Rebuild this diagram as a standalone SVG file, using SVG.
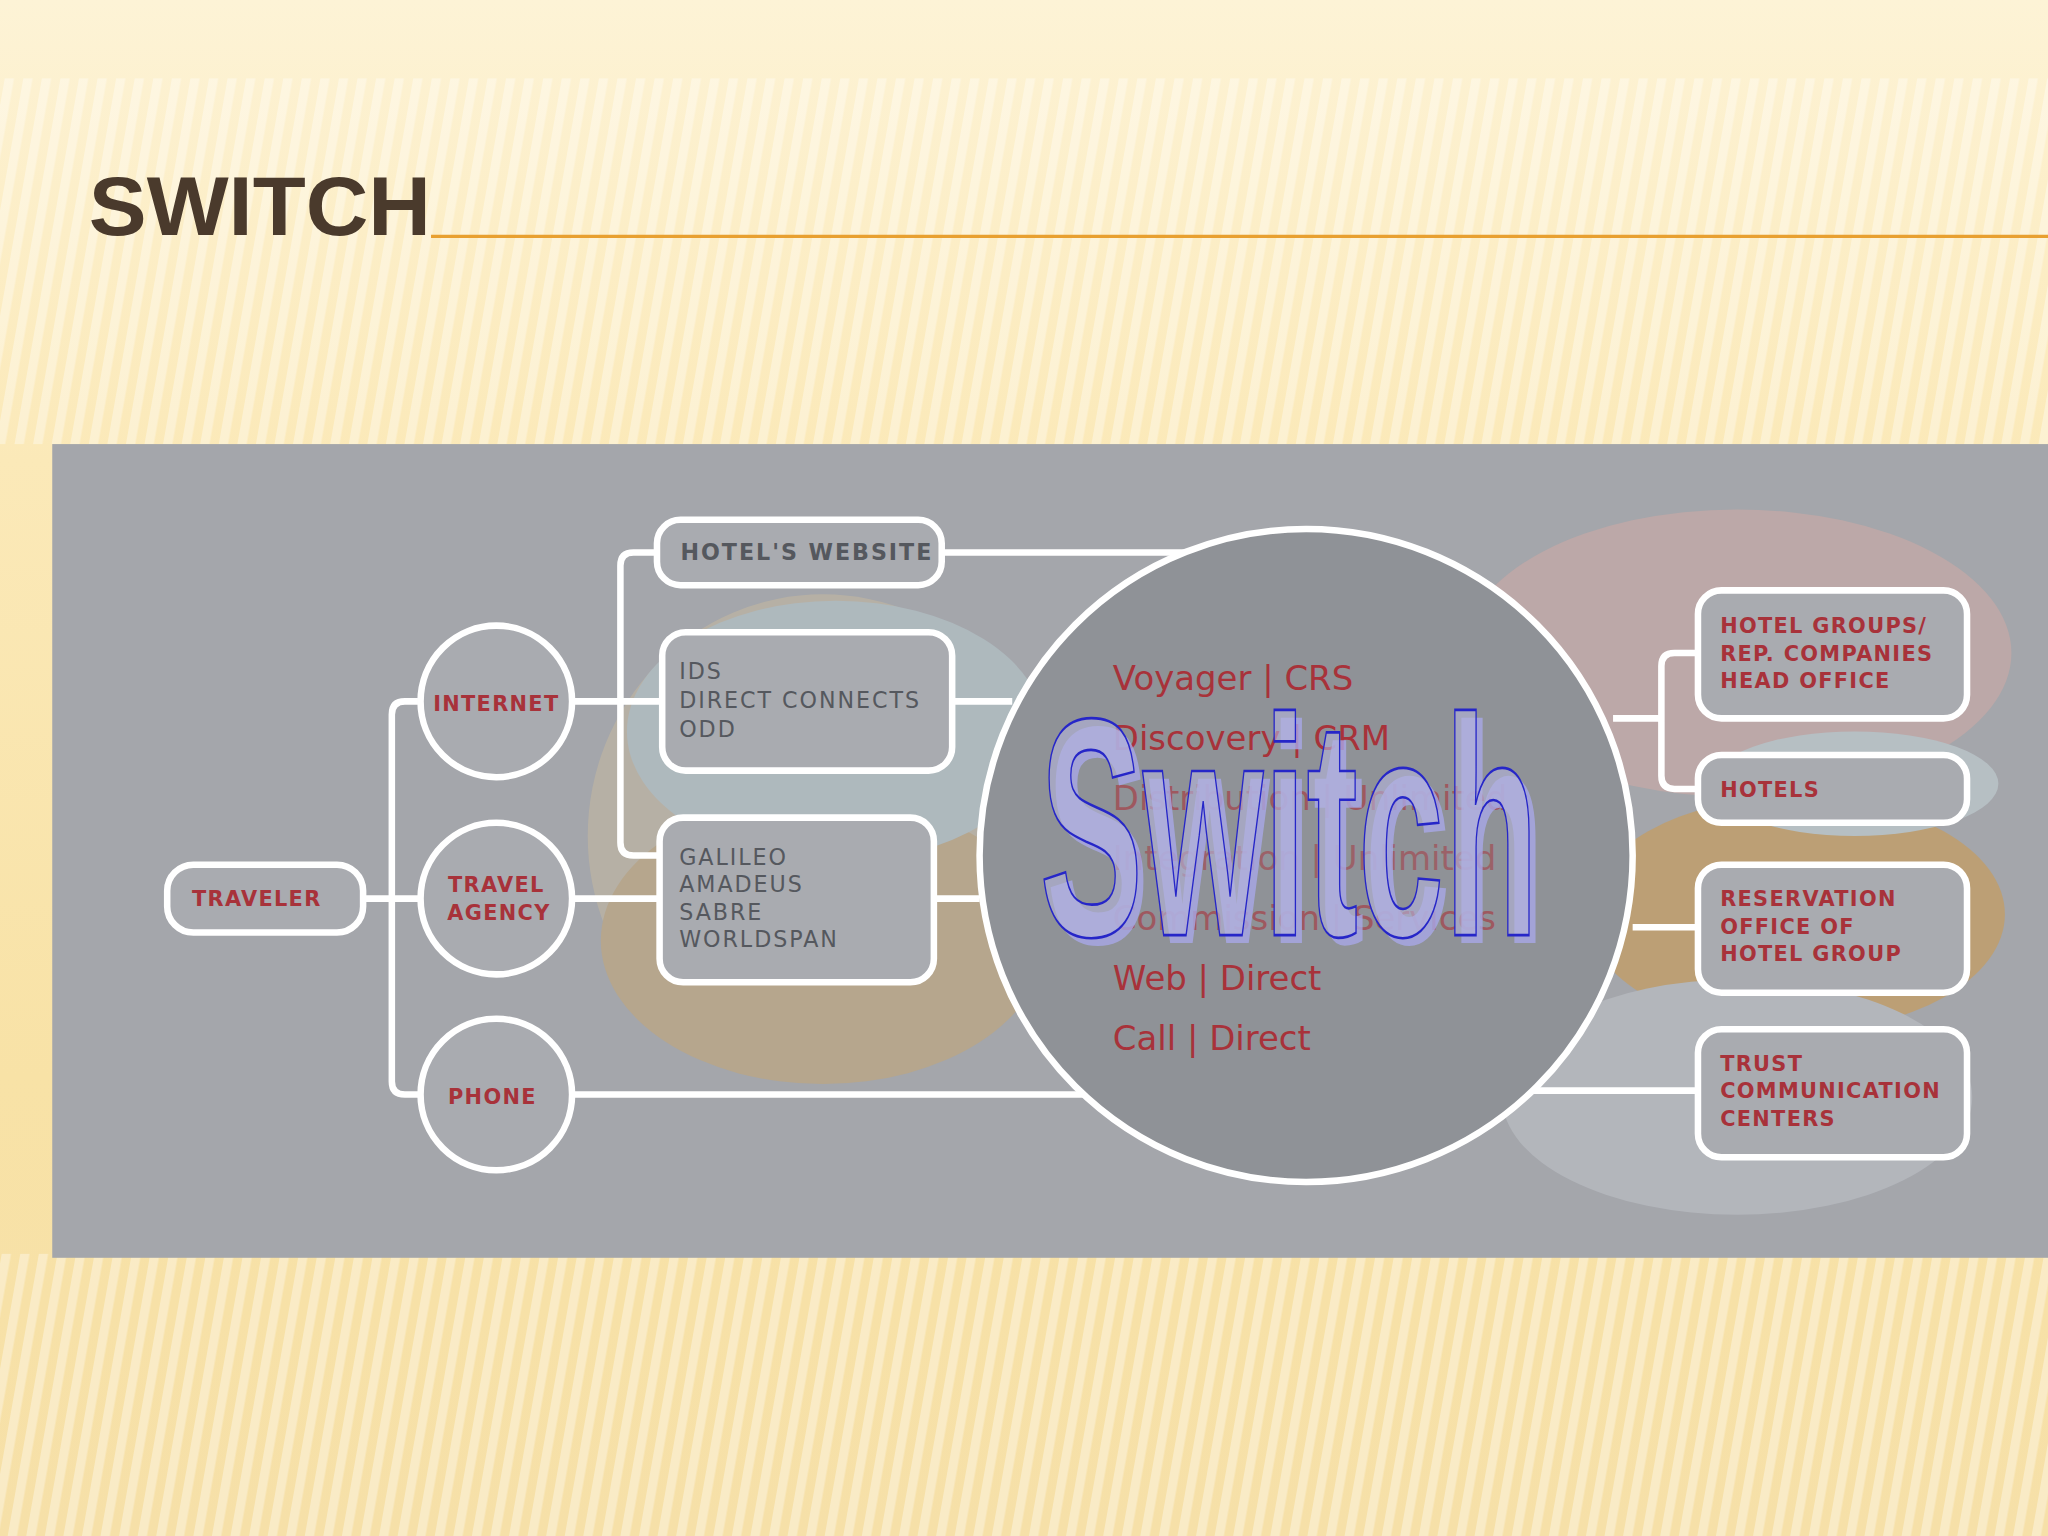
<svg xmlns="http://www.w3.org/2000/svg" width="2048" height="1536" viewBox="0 0 2048 1536">
<defs>
<linearGradient id="bg" x1="0" y1="0" x2="0" y2="1">
<stop offset="0" stop-color="#fdf3d6"/><stop offset="0.3" stop-color="#fbe9b8"/><stop offset="0.7" stop-color="#f8e2a6"/><stop offset="1" stop-color="#f6e0a8"/>
</linearGradient>
<pattern id="stripes" width="14" height="14" patternUnits="userSpaceOnUse" patternTransform="rotate(10)">
<rect width="7" height="14" fill="#ffffff" opacity="0.35"/>
</pattern>
<style>
.w{fill:none;stroke:#fff;stroke-width:5}
.box{fill:#a9abb0;stroke:#fff;stroke-width:5}
.red{font-family:"DejaVu Sans",sans-serif;font-size:16px;fill:#a8323a;letter-spacing:1px;font-weight:bold}
.gray{font-family:"DejaVu Sans",sans-serif;font-size:17px;fill:#55585e;letter-spacing:1.5px}
.big{font-family:"DejaVu Sans",sans-serif;font-size:26px;fill:#a8323a}
</style>
</defs>
<g transform="scale(1.30612)">
<rect width="1568" height="1176" fill="url(#bg)"/>
<rect y="60" width="1568" height="280" fill="url(#stripes)"/>
<rect y="960" width="1568" height="216" fill="url(#stripes)"/>
<text x="68" y="180" font-family="Liberation Sans Narrow,Liberation Sans,sans-serif" font-weight="bold" font-size="64" fill="#4a3a2c" textLength="262" lengthAdjust="spacingAndGlyphs">SWITCH</text>
<line x1="330" y1="181" x2="1568" y2="181" stroke="#e8a030" stroke-width="2.5"/>
<rect x="40" y="340" width="1528" height="623" fill="#a4a6ab"/>
<g opacity="0.5">
<ellipse cx="630" cy="640" rx="180" ry="185" fill="#c9bba0"/>
<ellipse cx="630" cy="720" rx="170" ry="110" fill="#c8a670"/>
<ellipse cx="640" cy="560" rx="160" ry="100" fill="#b8ccd0"/>
<ellipse cx="1330" cy="500" rx="210" ry="110" fill="#d4aaa6"/>
<ellipse cx="1375" cy="700" rx="160" ry="90" fill="#d49a40"/>
<ellipse cx="1330" cy="840" rx="180" ry="90" fill="#c2c6cc"/>
<ellipse cx="1420" cy="600" rx="110" ry="40" fill="#c8d8dc"/>
</g>
<g id="connectors" class="w">
<path d="M278 688H300M320 537H310Q300 537 300 547V828Q300 838 310 838H322M300 688H322"/>
<path d="M438 537H507M438 688H505M438 838H835"/>
<path d="M503 423H485Q475 423 475 433V645Q475 655 485 655H505"/>
<path d="M721 423H920M729 537H775M715 688H750"/>
<path d="M1235 550H1272M1300 500H1282Q1272 500 1272 510V594Q1272 604 1282 604H1300"/>
<path d="M1250 710H1300M1165 835H1300"/>
</g>
<g id="switch">
<circle cx="1000" cy="655" r="250" fill="#8f9297" stroke="#fff" stroke-width="5"/>
<text x="852" y="528" class="big">Voyager | CRS</text>
<text x="852" y="574" class="big">Discovery | CRM</text>
<text x="852" y="620" class="big" opacity="0.6">Distribution | Unlimited</text>
<text x="852" y="666" class="big" opacity="0.5">Integration | Unlimited</text>
<text x="852" y="712" class="big" opacity="0.6">Commission | Services</text>
<text x="852" y="758" class="big">Web | Direct</text>
<text x="852" y="804" class="big">Call | Direct</text>
<text x="801" y="722" font-family="Liberation Sans,sans-serif" font-weight="bold" font-size="238" fill="#a8a8e8" opacity="0.8" textLength="382" lengthAdjust="spacingAndGlyphs">Switch</text>
<text x="796" y="716" font-family="Liberation Sans,sans-serif" font-weight="bold" font-size="238" fill="#b4b4dc" fill-opacity="0.6" stroke="#2626c8" stroke-width="2" textLength="382" lengthAdjust="spacingAndGlyphs">Switch</text>
</g>
<g id="traveler"><rect x="128" y="662" width="150" height="52" rx="20" class="box"/><text x="147" y="694" class="red">TRAVELER</text></g>
<g id="internet"><circle cx="380" cy="537" r="58" class="box"/><text x="380" y="544" class="red" text-anchor="middle" font-size="15">INTERNET</text></g>
<g id="agency"><circle cx="380" cy="688" r="58" class="box"/><text x="380" y="683" class="red" text-anchor="middle">TRAVEL</text><text x="382" y="704" class="red" text-anchor="middle">AGENCY</text></g>
<g id="phone"><circle cx="380" cy="838" r="58" class="box"/><text x="377" y="845" class="red" text-anchor="middle">PHONE</text></g>
<g id="website"><rect x="503" y="398" width="218" height="50" rx="18" class="box"/><text x="521" y="429" class="gray" font-size="15" font-weight="bold" letter-spacing="1.5">HOTEL'S WEBSITE</text></g>
<g id="ids"><rect x="507" y="484" width="222" height="106" rx="18" class="box" fill="#b2c0c4"/><text class="gray"><tspan x="520" y="520">IDS</tspan><tspan x="520" y="542">DIRECT CONNECTS</tspan><tspan x="520" y="564">ODD</tspan></text></g>
<g id="gds"><rect x="505" y="626" width="210" height="126" rx="18" class="box" fill="#b4b2b8"/><text class="gray"><tspan x="520" y="662">GALILEO</tspan><tspan x="520" y="683">AMADEUS</tspan><tspan x="520" y="704">SABRE</tspan><tspan x="520" y="725">WORLDSPAN</tspan></text></g>
<g id="groups"><rect x="1300" y="452" width="206" height="98" rx="18" class="box" fill="#c0a8a8"/><text class="red" font-size="15"><tspan x="1317" y="485">HOTEL GROUPS/</tspan><tspan x="1317" y="506">REP. COMPANIES</tspan><tspan x="1317" y="527">HEAD OFFICE</tspan></text></g>
<g id="hotels"><rect x="1300" y="578" width="206" height="52" rx="18" class="box" fill="#b0b6bc"/><text x="1317" y="610" class="red" font-size="15">HOTELS</text></g>
<g id="reservation"><rect x="1300" y="662" width="206" height="98" rx="18" class="box" fill="#c09a68"/><text class="red" font-size="15"><tspan x="1317" y="694">RESERVATION</tspan><tspan x="1317" y="715">OFFICE OF</tspan><tspan x="1317" y="736">HOTEL GROUP</tspan></text></g>
<g id="trust"><rect x="1300" y="788" width="206" height="98" rx="18" class="box" fill="#aeb2b8"/><text class="red" font-size="15"><tspan x="1317" y="820">TRUST</tspan><tspan x="1317" y="841">COMMUNICATION</tspan><tspan x="1317" y="862">CENTERS</tspan></text></g>
</g>
</svg>
